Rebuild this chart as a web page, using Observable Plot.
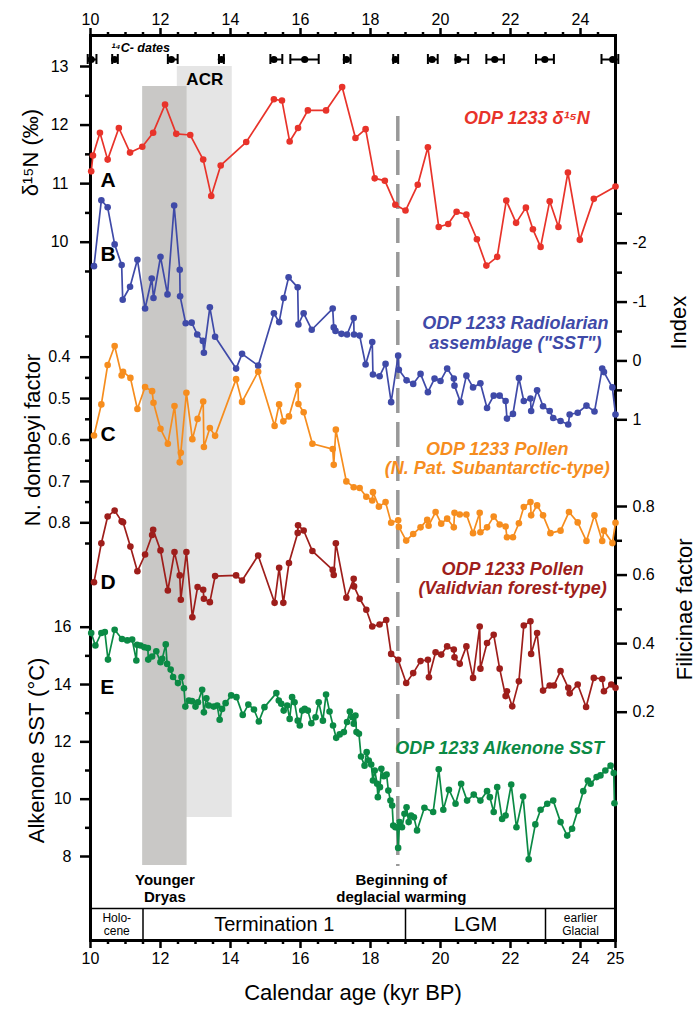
<!DOCTYPE html>
<html><head><meta charset="utf-8">
<script src="https://cdn.jsdelivr.net/npm/d3@7"></script>
<script src="https://cdn.jsdelivr.net/npm/@observablehq/plot@0.6"></script>
<style>
body{margin:0;background:#fff;}
#chart{position:relative;width:696px;height:1010px;}
#chart svg{position:absolute;left:0;top:0;}
</style></head><body><div id="chart"></div>
<script>
// ---------- DATA ----------
// A: ODP 1233 d15N (permil)
const aAge = [10.02,10.07,10.27,10.49,10.81,11.13,11.48,11.79,12.13,12.45,
  12.85,13.22,13.45,13.72,14.45,15.24,15.47,15.69,15.93,16.21,
  16.73,17.19,17.57,17.86,18.12,18.41,18.71,19.0,19.35,19.64,
  19.95,20.22,20.46,20.74,21.04,21.31,21.62,21.88,22.16,22.44,
  22.64,22.86,23.12,23.37,23.64,23.98,24.38,25.0];
const aD15N = [11.21,11.48,11.87,11.41,11.95,11.53,11.63,11.87,12.35,11.85,
  11.83,11.41,10.79,11.31,11.71,12.44,12.42,11.72,11.95,12.25,
  12.25,12.65,11.78,11.93,11.09,11.05,10.64,10.54,10.98,11.62,
  10.26,10.31,10.52,10.47,10.05,9.6,9.75,10.71,10.33,10.59,
  10.22,9.92,10.70,10.26,11.19,10.04,10.74,10.95];
// B: Radiolarian assemblage index
const bAge = [10.1,10.31,10.49,10.69,10.89,10.92,11.13,11.34,11.56,11.75,
  11.8,12.0,12.2,12.39,12.55,12.56,12.72,12.89,13.05,13.21,
  13.24,13.41,13.56,14.16,14.33,14.79,15.24,15.39,15.52,15.66,
  15.92,15.94,16.09,16.32,16.92,16.95,17.0,17.17,17.33,17.52,
  17.53,17.69,17.86,18.05,18.07,18.26,18.43,18.59,18.79,18.81,
  19.03,19.22,19.43,19.64,19.83,20.0,20.19,20.38,20.4,20.57,
  20.74,20.93,21.14,21.33,21.52,21.69,21.86,21.9,22.07,22.24,
  22.38,22.57,22.59,22.76,22.93,23.12,23.22,23.43,23.65,23.69,
  23.92,24.17,24.4,24.62,24.67,24.91,25.0];
const bIndex = [-1.61,-2.73,-2.61,-1.98,-1.63,-1.04,-1.26,-1.72,-0.89,-1.40,
  -1.07,-1.77,-1.13,-2.64,-1.55,-1.10,-0.64,-0.65,-0.45,-0.34,
  -0.14,-0.91,-0.41,0.13,-0.12,0.08,-0.81,-0.66,-1.07,-1.42,
  -1.25,-0.62,-0.81,-0.53,-0.89,-0.57,-0.51,-0.46,-0.45,-0.73,
  -0.45,-0.43,0.06,-0.32,0.23,0.26,0.05,0.70,-0.09,0.15,
  0.33,0.39,0.22,0.53,0.30,0.34,0.13,0.30,0.42,0.70,
  0.25,0.45,0.38,0.80,0.59,0.59,0.68,0.98,0.90,0.29,
  0.68,0.64,0.85,0.50,0.77,0.85,0.97,1.02,1.08,0.91,
  0.88,0.76,0.86,0.13,0.19,0.45,0.91];
// C: Pollen, N. dombeyi factor
const cAge = [10.1,10.31,10.49,10.69,10.89,10.93,11.14,11.34,11.56,11.76,
  11.8,12.0,12.21,12.4,12.55,12.58,12.74,12.91,13.06,13.22,
  13.24,13.41,13.56,14.16,14.33,14.79,15.26,15.39,15.51,15.67,
  15.93,15.94,16.09,16.34,16.92,16.95,17.01,17.31,17.52,17.69,
  17.88,18.05,18.07,18.24,18.43,18.59,18.79,18.81,19.02,19.22,
  19.43,19.62,19.66,19.86,20.02,20.19,20.38,20.4,20.55,20.74,
  20.93,21.12,21.14,21.33,21.52,21.69,21.86,21.9,22.07,22.24,
  22.38,22.57,22.59,22.76,22.93,23.14,23.43,23.67,23.92,24.17,
  24.4,24.62,24.67,24.91,25.0];
const cDombeyi = [0.589,0.514,0.419,0.373,0.444,0.435,0.45,0.525,0.472,0.482,
  0.51,0.573,0.609,0.518,0.654,0.631,0.486,0.598,0.549,0.507,
  0.617,0.571,0.590,0.453,0.508,0.435,0.566,0.514,0.555,0.543,
  0.468,0.513,0.533,0.609,0.622,0.66,0.575,0.70,0.714,0.716,
  0.737,0.746,0.726,0.761,0.750,0.80,0.794,0.81,0.843,0.827,
  0.811,0.793,0.807,0.774,0.802,0.79,0.811,0.776,0.78,0.78,
  0.825,0.776,0.823,0.811,0.785,0.804,0.809,0.835,0.835,0.801,
  0.762,0.75,0.782,0.758,0.782,0.825,0.819,0.774,0.799,0.844,
  0.782,0.844,0.819,0.849,0.80];
// D: Pollen, Filicinae factor
const dAge = [10.1,10.31,10.49,10.69,10.89,10.93,11.14,11.34,11.56,11.76,
  11.79,12.0,12.21,12.4,12.55,12.58,12.74,12.91,13.06,13.22,
  13.24,13.41,13.56,14.16,14.33,14.79,15.26,15.39,15.51,15.67,
  15.92,15.93,16.09,16.34,16.92,16.95,17.01,17.31,17.52,17.53,
  17.69,17.88,18.05,18.26,18.45,18.59,18.79,19.02,19.22,19.43,
  19.64,19.67,19.86,20.02,20.19,20.38,20.4,20.55,20.74,20.93,
  21.12,21.14,21.33,21.52,21.69,21.86,21.9,22.05,22.24,22.38,
  22.57,22.59,22.76,22.93,23.12,23.24,23.43,23.65,23.69,23.92,
  24.16,24.38,24.62,24.67,24.88,25.0];
const dFilicinae = [0.579,0.693,0.771,0.788,0.757,0.754,0.683,0.611,0.66,0.717,
  0.732,0.672,0.555,0.667,0.599,0.528,0.667,0.477,0.565,0.557,
  0.531,0.521,0.597,0.599,0.584,0.657,0.519,0.621,0.519,0.635,
  0.723,0.745,0.730,0.670,0.615,0.60,0.693,0.534,0.589,0.567,
  0.531,0.499,0.45,0.456,0.469,0.37,0.353,0.285,0.314,0.349,
  0.353,0.302,0.375,0.368,0.392,0.383,0.36,0.341,0.392,0.30,
  0.45,0.327,0.402,0.426,0.327,0.247,0.261,0.217,0.29,0.453,
  0.465,0.37,0.431,0.263,0.278,0.278,0.32,0.271,0.255,0.281,
  0.215,0.30,0.297,0.261,0.281,0.271];
// E: Alkenone SST (degC)
const eAge = [10.02,10.14,10.31,10.41,10.5,10.69,10.9,11.05,11.19,11.31,
  11.33,11.43,11.54,11.64,11.65,11.76,11.88,12.0,12.05,12.15,
  12.19,12.29,12.36,12.5,12.6,12.67,12.71,12.81,12.9,13.0,
  13.07,13.19,13.24,13.31,13.38,13.52,13.62,13.69,13.76,13.86,
  14.02,14.17,14.35,14.51,14.67,14.81,14.97,15.31,15.38,15.45,
  15.52,15.62,15.69,15.76,15.83,15.92,15.98,16.05,16.12,16.21,
  16.31,16.43,16.52,16.64,16.73,16.83,16.93,17.02,17.12,17.24,
  17.33,17.41,17.48,17.52,17.57,17.6,17.67,17.73,17.83,17.89,
  17.95,18.02,18.07,18.12,18.19,18.21,18.27,18.31,18.38,18.46,
  18.51,18.57,18.62,18.65,18.71,18.76,18.79,18.83,18.9,18.97,
  19.03,19.09,19.16,19.24,19.33,19.54,19.79,19.95,20.08,20.24,
  20.43,20.59,20.76,20.95,21.14,21.33,21.41,21.52,21.62,21.76,
  21.86,22.02,22.17,22.36,22.52,22.71,22.86,23.05,23.22,23.43,
  23.62,23.76,23.92,24.08,24.21,24.29,24.46,24.57,24.71,24.86,
  24.95,24.97];
const eSST = [15.80,15.36,15.80,15.83,14.87,15.91,15.59,15.54,15.57,14.84,
  15.39,15.36,15.30,15.27,14.87,14.98,15.16,14.78,14.90,15.40,
  14.72,14.52,14.26,14.05,14.26,13.87,13.23,13.44,13.42,13.23,
  13.38,13.82,13.03,13.52,13.27,13.23,13.27,12.77,13.15,13.35,
  13.62,13.56,12.94,13.30,13.13,12.71,13.21,13.70,13.44,13.33,
  13.09,13.27,12.80,13.56,13.38,12.74,12.57,13.09,13.15,13.09,
  12.65,12.86,13.38,12.74,13.65,13.06,12.57,12.14,12.26,12.34,
  12.69,13.06,12.86,12.63,12.92,12.34,12.28,11.49,11.17,11.64,
  11.35,11.21,10.65,11.0,10.54,10.07,10.42,11.06,10.80,10.86,
  10.30,9.95,9.78,9.08,9.02,9.02,8.30,9.20,9.02,9.49,
  9.72,9.20,9.43,9.37,8.91,9.70,9.55,11.04,9.63,10.33,
  9.84,10.54,9.95,10.16,9.95,10.28,10.07,9.55,10.42,9.31,
  9.43,10.51,9.02,10.09,7.9,9.12,9.63,9.84,9.95,9.20,
  8.73,8.97,9.60,10.28,10.65,10.54,10.77,10.83,11.0,11.17,
  10.91,9.86];
// 14C dates (kyr BP) with error range
const c14Age = [10.02,10.69,12.31,13.74,15.24,16.12,17.31,18.71,19.76,20.5,21.55,22.98,24.92];
const c14Lo  = [9.92,10.62,12.21,13.67,15.14,15.71,17.24,18.65,19.64,20.43,21.31,22.73,24.6];
const c14Hi  = [10.17,10.78,12.49,13.81,15.48,16.52,17.43,18.79,19.92,20.79,21.81,23.24,25.08];
// Periods / events
const periodName  = ["Holo-\ncene","Termination 1","LGM","earlier\nGlacial"];
const periodStart = [10,11.5,19,23];
const periodEnd   = [11.5,19,23,25];
const youngerDryas = [11.49,12.76];
const acr = [12.48,14.05];
const deglacialStart = 18.78;
// Tick labels
const xTicksTop = [10,12,14,16,18,20,22,24];
const xTicksBottom = [10,12,14,16,18,20,22,24,25];
const aTicks = [10,11,12,13], aMinor = [9.5,10.5,11.5,12.5];
const bTicks = [-2,-1,0,1], bMinor = [-2.5,-1.5,-0.5,0.5];
const cTicks = [0.4,0.5,0.6,0.7,0.8], cMinor = [0.35,0.45,0.55,0.65,0.75,0.85];
const dTicks = [0.2,0.4,0.6,0.8], dMinor = [0.3,0.5,0.7];
const eTicks = [8,10,12,14,16], eMinor = [9,11,13,15];

// ---------- LAYOUT ----------
const W = 696, H = 1010, ML = 90, MR = 81, MT = 35, MB = 70;
const FONT = '"Liberation Sans", Arial, Helvetica, sans-serif';
const RED = "#e8332a", BLUE = "#3f4aa8", ORANGE = "#f68d1e", DARKRED = "#9e1e1b", GREEN = "#0b8a45";
const chart = document.getElementById("chart");
const rowsOf = (ages, vals) => ages.map((age, i) => ({age, v: vals[i]}));

function addLayer(y, marks, xOpts = {axis: null}) {
  const svg = Plot.plot({
    width: W, height: H, marginLeft: ML, marginRight: MR, marginTop: MT, marginBottom: MB,
    x: {domain: [10, 25], ...xOpts}, y,
    style: {background: "transparent", fontFamily: FONT, overflow: "visible"},
    marks
  });
  chart.appendChild(svg);
}
const seriesMarks = (rows, color) => [
  Plot.line(rows, {x: "age", y: "v", stroke: color, strokeWidth: 1.7}),
  Plot.dot(rows, {x: "age", y: "v", fill: color, r: 3.3})
];
const axisMarks = (anchor, major, minor, pad, fmt) => [
  Plot.axisY({anchor, ticks: major, tickSize: anchor === "left" ? 10 : 11, tickPadding: pad,
    tickFormat: fmt, fontSize: 16, strokeWidth: 2.5, label: null}),
  Plot.axisY({anchor, ticks: minor, tickSize: anchor === "left" ? 5 : 6,
    tickFormat: () => "", strokeWidth: 2.5, label: null})
];
const axisTitle = (t, anchor, y, dx) => Plot.text([t], {frameAnchor: anchor, y, dx, rotate: -90,
  fontSize: 22, textAnchor: "middle", lineAnchor: "middle"});
const panelLetter = (t, x, y) => Plot.text([t], {x, y, fontSize: 21, fontWeight: "bold",
  textAnchor: "middle", lineAnchor: "middle"});
const seriesLabel = (t, x, y, color) => Plot.text([t], {x, y, fill: color, fontSize: 18,
  fontWeight: "bold", fontStyle: "italic", textAnchor: "middle", lineAnchor: "middle", lineHeight: 1.1});

const fmt1 = d3.format(".1f");
const c14 = c14Age.map((age, i) => ({age, lo: c14Lo[i], hi: c14Hi[i]}));
const periods = periodName.map((name, i) => ({name, start: periodStart[i], end: periodEnd[i], mid: (periodStart[i] + periodEnd[i]) / 2}));
const xMinor = d3.range(10.5, 25, 0.5).filter(d => !xTicksTop.includes(d));

// Base layer: bands, frame, x axes, dates, period boxes
addLayer({type: "identity", axis: null}, [
  Plot.rect([acr], {x1: d => d[0], x2: d => d[1], y1: 66, y2: 817, fill: "#e5e5e5"}),
  Plot.rect([youngerDryas], {x1: d => d[0], x2: d => d[1], y1: 86, y2: 865, fill: "#c9c8c6"}),
  Plot.ruleX([deglacialStart], {y1: 116, y2: 866, stroke: "#999", strokeWidth: 3.5, strokeDasharray: "25,9"}),
  Plot.frame({stroke: "black", strokeWidth: 3}),
  Plot.axisX({anchor: "top", ticks: xTicksTop, tickSize: 8, tickPadding: 3, fontSize: 16, strokeWidth: 2.5, label: null, tickFormat: d => String(d)}),
  Plot.axisX({anchor: "top", ticks: xMinor, tickSize: 4, strokeWidth: 2.5, label: null, tickFormat: () => ""}),
  Plot.axisX({anchor: "bottom", ticks: xTicksBottom, tickSize: 8, tickPadding: 4, fontSize: 16, strokeWidth: 2.5, label: null, tickFormat: d => String(d)}),
  Plot.axisX({anchor: "bottom", ticks: xMinor, tickSize: 4, strokeWidth: 2.5, label: null, tickFormat: () => ""}),
  Plot.ruleY(c14, {x1: "lo", x2: "hi", y: 59, stroke: "black", strokeWidth: 2}),
  Plot.ruleX(c14, {x: "lo", y1: 54, y2: 64, stroke: "black", strokeWidth: 2}),
  Plot.ruleX(c14, {x: "hi", y1: 54, y2: 64, stroke: "black", strokeWidth: 2}),
  Plot.dot(c14, {x: "age", y: 59, r: 3.6, fill: "black"}),
  Plot.text(["¹⁴C- dates"], {x: 11.43, y: 47, fontSize: 12.5, fontWeight: "bold", fontStyle: "italic", textAnchor: "middle", lineAnchor: "middle"}),
  Plot.text(["ACR"], {x: (acr[0] + acr[1]) / 2, y: 79, fontSize: 17, fontWeight: "bold", textAnchor: "middle", lineAnchor: "middle"}),
  Plot.text(["Younger\nDryas"], {x: (youngerDryas[0] + youngerDryas[1]) / 2, y: 888, fontSize: 15, fontWeight: "bold", textAnchor: "middle", lineAnchor: "middle", lineHeight: 1.13}),
  Plot.text(["Beginning of\ndeglacial warming"], {x: deglacialStart + 0.1, y: 888, fontSize: 15, fontWeight: "bold", textAnchor: "middle", lineAnchor: "middle", lineHeight: 1.13}),
  Plot.ruleY([0], {x1: 10, x2: 25, y: 908, stroke: "black", strokeWidth: 1.5}),
  Plot.ruleX(periods.slice(1), {x: "start", y1: 908, y2: 940, stroke: "black", strokeWidth: 1.5}),
  Plot.text(periods, {x: "mid", y: 924, text: "name", fontSize: d => d.name.includes("\n") ? 12 : 20, textAnchor: "middle", lineAnchor: "middle", lineHeight: 1.05}),
  Plot.text(["Calendar age (kyr BP)"], {frameAnchor: "bottom", dy: 52, fontSize: 22, textAnchor: "middle", lineAnchor: "middle"})
], {});

// A: d15N
addLayer({domain: [9.5, 13], range: [270.98, 66]}, [
  ...axisMarks("left", aTicks, aMinor, 12, d => String(d)),
  axisTitle("δ¹⁵N (‰)", "left", 11.53, -60),
  ...seriesMarks(rowsOf(aAge, aD15N), RED),
  panelLetter("A", 10.5, 11.05),
  seriesLabel("ODP 1233 δ¹⁵N", 22.47, 12.13, RED)
]);
// B: Radiolarian index
addLayer({domain: [-2.5, 1], range: [213.27, 419.3]}, [
  ...axisMarks("right", bTicks, bMinor, 6, d => String(d)),
  axisTitle("Index", "right", -0.65, 63),
  ...seriesMarks(rowsOf(bAge, bIndex), BLUE),
  panelLetter("B", 10.5, -1.82),
  seriesLabel("ODP 1233 Radiolarian\nassemblage (\"SST\")", 22.14, -0.485, BLUE)
]);
// C: N. dombeyi
addLayer({domain: [0.35, 0.85], range: [336.0, 543.0]}, [
  ...axisMarks("left", cTicks, cMinor, 10, fmt1),
  axisTitle("N. dombeyi factor", "left", 0.6, -58),
  ...seriesMarks(rowsOf(cAge, cDombeyi), ORANGE),
  panelLetter("C", 10.5, 0.585),
  seriesLabel("ODP 1233 Pollen\n(N. Pat. Subantarctic-type)", 21.62, 0.644, ORANGE)
]);
// D: Filicinae
addLayer({domain: [0.2, 0.8], range: [711.7, 506]}, [
  ...axisMarks("right", dTicks, dMinor, 6, fmt1),
  axisTitle("Filicinae factor", "right", 0.5, 69),
  ...seriesMarks(rowsOf(dAge, dFilicinae), DARKRED),
  panelLetter("D", 10.5, 0.579),
  seriesLabel("ODP 1233 Pollen\n(Validvian forest-type)", 22.06, 0.591, DARKRED)
]);
// E: Alkenone SST
addLayer({domain: [8, 16], range: [856, 626.7]}, [
  ...axisMarks("left", eTicks, eMinor, 9, d => String(d)),
  axisTitle("Alkenone SST (°C)", "left", 11.7, -54),
  ...seriesMarks(rowsOf(eAge, eSST), GREEN),
  panelLetter("E", 10.48, 13.89),
  seriesLabel("ODP 1233 Alkenone SST", 21.69, 11.81, GREEN)
]);
</script></body></html>
